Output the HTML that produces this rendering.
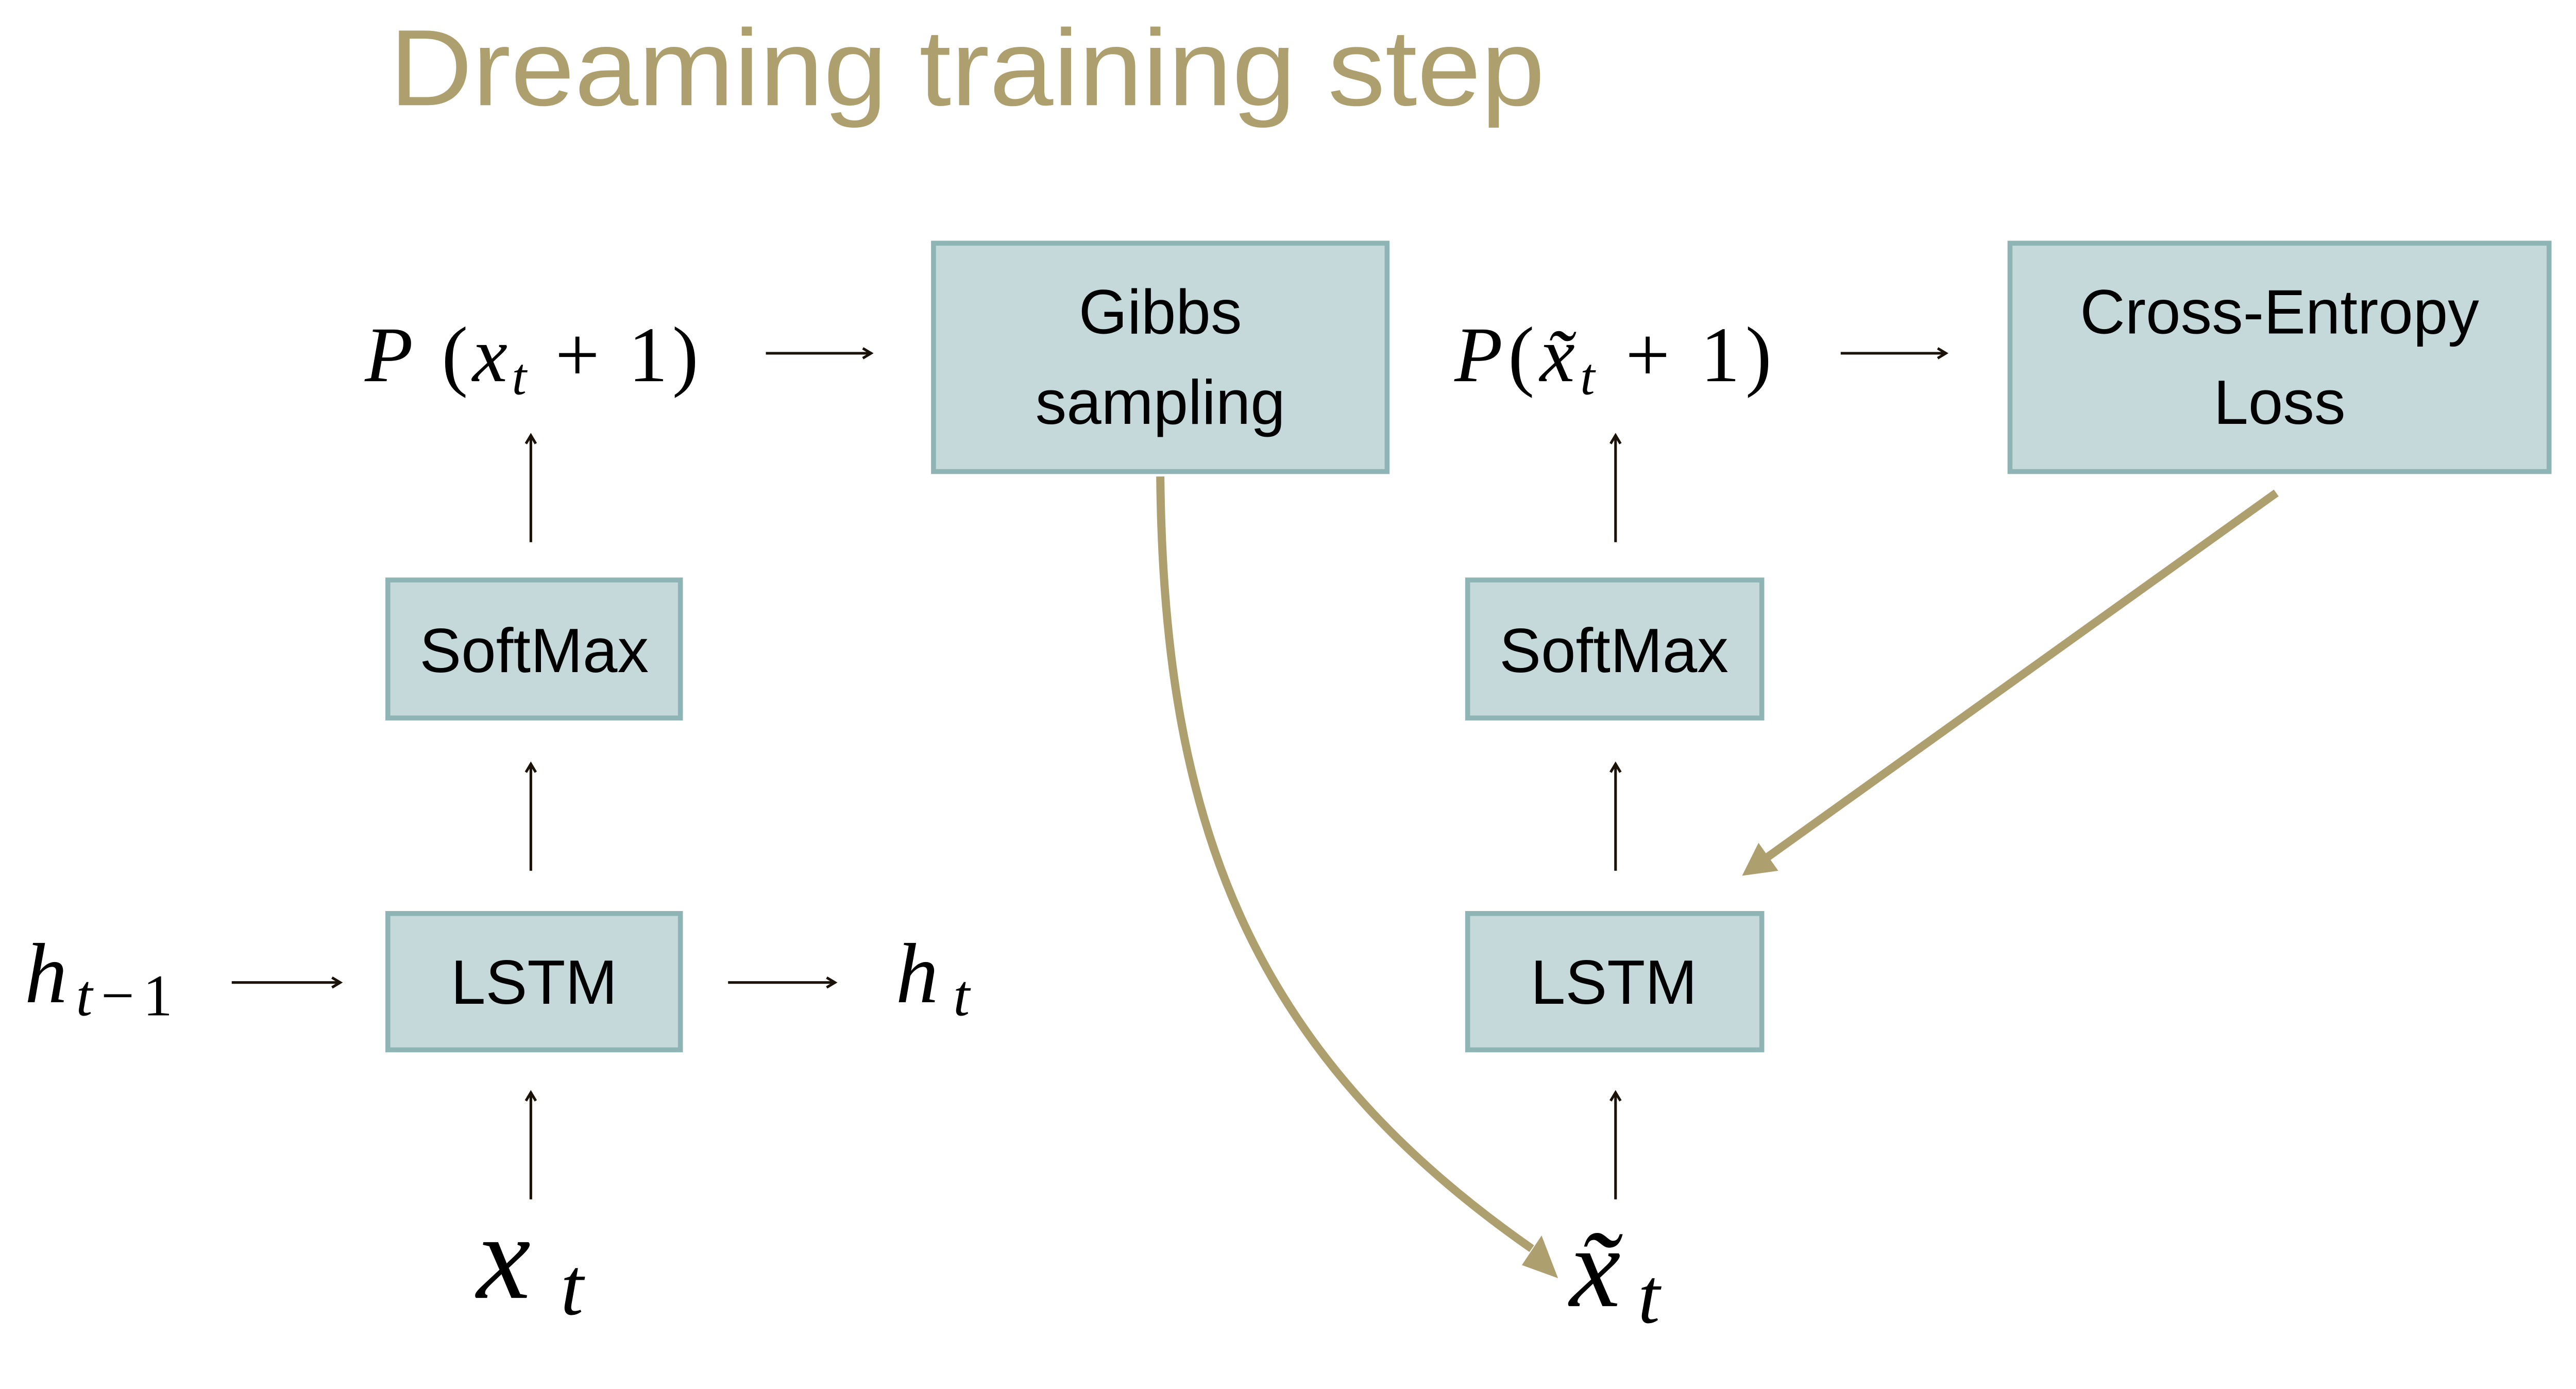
<!DOCTYPE html>
<html><head><meta charset="utf-8"><style>
html,body{margin:0;padding:0;background:#fff;}
svg{display:block;}
.box{fill:#c5d9da;stroke:#8fb4b6;stroke-width:3;}
.bt{font-family:"Liberation Sans",sans-serif;font-size:38px;fill:#000;text-anchor:middle;}
.m{font-family:"Liberation Serif",serif;font-style:italic;fill:#000;}
.r{font-family:"Liberation Serif",serif;fill:#000;}
.ar{stroke:#1a1208;stroke-width:1.6;fill:none;}
</style></head><body>
<svg width="5171" height="2697" viewBox="0 0 1621 845.4" xmlns="http://www.w3.org/2000/svg">
<text x="237" y="64" font-family="Liberation Sans, sans-serif" font-size="66" fill="#ad9f6e" textLength="703" lengthAdjust="spacingAndGlyphs">Dreaming training step</text>

<rect class="box" x="568" y="148" width="276" height="139"/>
<text class="bt" x="706" y="203">Gibbs</text>
<text class="bt" x="706" y="258">sampling</text>
<rect class="box" x="1223" y="148" width="328" height="139"/>
<text class="bt" x="1387" y="203">Cross-Entropy</text>
<text class="bt" x="1387" y="258">Loss</text>

<rect class="box" x="236" y="353" width="178" height="84"/>
<text class="bt" x="325" y="409">SoftMax</text>
<rect class="box" x="893" y="353" width="179" height="84"/>
<text class="bt" x="982" y="409">SoftMax</text>
<rect class="box" x="236" y="556" width="178" height="83"/>
<text class="bt" x="325" y="611">LSTM</text>
<rect class="box" x="893" y="556" width="179" height="83"/>
<text class="bt" x="982" y="611">LSTM</text>

<text x="222" y="232" font-size="48" textLength="203" lengthAdjust="spacing"><tspan class="m">P</tspan><tspan class="r"> (</tspan><tspan class="m">x</tspan><tspan class="m" font-size="32" dy="8">t</tspan><tspan class="r" dy="-8"> + 1)</tspan></text>
<text x="885" y="232" font-size="48" textLength="193" lengthAdjust="spacing"><tspan class="m">P</tspan><tspan class="r">(</tspan><tspan class="m">x̃</tspan><tspan class="m" font-size="32" dy="8">t</tspan><tspan class="r" dy="-8"> + 1)</tspan></text>
<text x="15" y="610" font-size="52" textLength="90" lengthAdjust="spacing"><tspan class="m">h</tspan><tspan class="m" font-size="36" dy="8">t</tspan><tspan class="r" font-size="36">−1</tspan></text>
<text x="545" y="610" font-size="52" textLength="45" lengthAdjust="spacing"><tspan class="m">h</tspan><tspan class="m" font-size="36" dy="8">t</tspan></text>
<text x="290" y="790" font-size="74" textLength="65" lengthAdjust="spacing"><tspan class="m">x</tspan><tspan class="m" font-size="50" dy="10">t</tspan></text>
<text x="955" y="795" font-size="70" textLength="55" lengthAdjust="spacing"><tspan class="m">x̃</tspan><tspan class="m" font-size="48" dy="10">t</tspan></text>

<g class="ar">
<path d="M466 215H530M525 212L530 215L525 218"/>
<path d="M1120 215H1184M1179 212L1184 215L1179 218"/>
<path d="M141 598H207M202 595L207 598L202 601"/>
<path d="M443 598H508M503 595L508 598L503 601"/>
<path d="M323 330V265M320 270L323 265L326 270"/>
<path d="M323 530V465M320 470L323 465L326 470"/>
<path d="M323 730V665M320 670L323 665L326 670"/>
<path d="M983 330V265M980 270L983 265L986 270"/>
<path d="M983 530V465M980 470L983 465L986 470"/>
<path d="M983 730V665M980 670L983 665L986 670"/>
</g>

<path d="M706 290 C708 500 760 640 932 760" stroke="#ad9f6e" stroke-width="5" fill="none"/>
<polygon points="948,778 926,770 938,752" fill="#ad9f6e"/>
<path d="M1385 300 L1075 522" stroke="#ad9f6e" stroke-width="5" fill="none"/>
<polygon points="1060,533 1070,513 1082,530" fill="#ad9f6e"/>
</svg>
</body></html>
